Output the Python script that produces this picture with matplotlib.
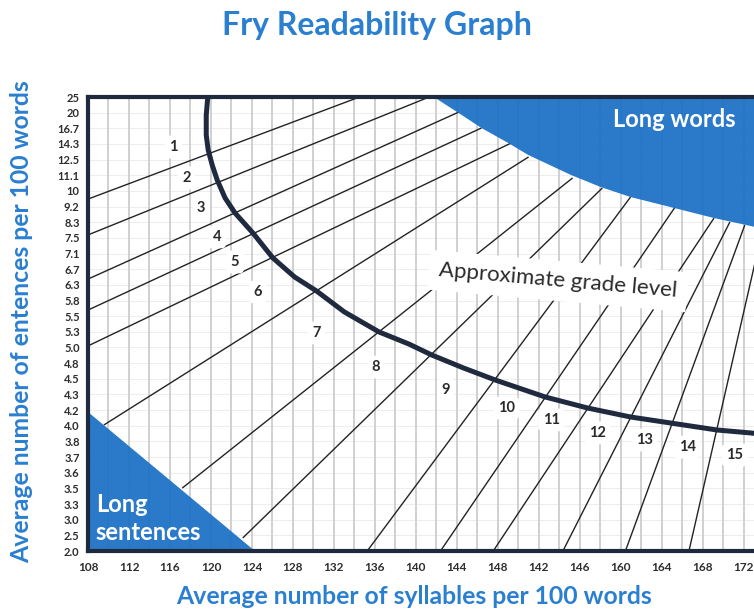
import matplotlib
matplotlib.use("Agg")
import matplotlib.pyplot as plt

plt.rcParams['font.family'] = ['Lato', 'DejaVu Sans']

# ---- axis tick labels (rows bottom->top, columns left->right) ----
y_labels = ["2.0", "2.5", "3.0", "3.3", "3.5", "3.6", "3.7", "3.8", "4.0", "4.2",
            "4.3", "4.5", "4.8", "5.0", "5.3", "5.5", "5.8", "6.3", "6.7", "7.1",
            "7.5", "8.3", "9.2", "10", "11.1", "12.5", "14.3", "16.7", "20", "25"]
x_labels = ["108", "112", "116", "120", "124", "128", "132", "136", "140", "144",
            "148", "142", "146", "160", "164", "168", "172"]
x_ticks = [108 + 4 * i for i in range(len(x_labels))]

# ---- grade boundary lines: start (x0,y0) -> end (x1,y1); y in row units ----
line_x0 = [108, 108, 108, 108, 108, 109.55, 117.2, 123.1, 135.25, 142.4, 147.55, 154.35, 160.45, 166.65]
line_y0 = [22.48, 20.19, 17.37, 15.39, 13.10, 8.05, 4.02, 0.83, 0, 0, 0, 0, 0, 0]
line_x1 = [134.5, 141.3, 144.2, 146.4, 149.3, 151.0, 155.3, 158.2, 160.95, 165.3, 169.1, 170.65, 172.1, 173.9]
line_y1 = [29, 29, 28.04, 27.02, 26.06, 25.17, 23.83, 23.19, 22.61, 21.97, 21.27, 21.02, 20.82, 20.7]

# ---- grade numbers ----
grade_text = [str(i) for i in range(1, 16)]
grade_x = [116.34, 117.60, 119.05, 120.61, 122.35, 124.58, 130.30, 136.12, 142.91,
           148.82, 153.19, 157.75, 162.30, 166.47, 171.13]
grade_y = [25.81, 23.83, 21.91, 20.06, 18.46, 16.55, 13.93, 11.75, 10.28,
           9.13, 8.37, 7.54, 7.09, 6.64, 6.13]

# ---- "Long words" region boundary ----
lw_x = [141.75, 144.17, 146.40, 149.02, 150.96, 155.13, 158.04, 160.95, 165.21, 169.09, 172.68, 175.0]
lw_y = [29.0, 27.98, 27.02, 26.06, 25.30, 24.02, 23.25, 22.61, 21.91, 21.27, 20.76, 20.4]

# ---- "Long sentences" triangle ----
ls_x = [108, 108, 124.29]
ls_y = [0, 8.88, 0]

# ---- approximate grade level curve ----
curve_x = [119.73, 119.54, 119.54, 119.73, 120.12, 120.61, 121.38, 122.35, 124.10, 126.04,
           128.17, 130.30, 133.02, 136.41, 139.32, 141.55, 144.65, 147.76, 152.61, 156.78,
           160.95, 164.82, 169.38, 172.68, 174.7]
curve_y = [29.3, 27.85, 26.57, 25.61, 24.66, 23.70, 22.55, 21.59, 20.31, 18.72,
           17.50, 16.61, 15.27, 13.99, 13.22, 12.52, 11.69, 10.92, 9.84, 9.13,
           8.56, 8.18, 7.73, 7.54, 7.41]

BLUE = "#1d72c6"
TBLUE = "#2a7fd0"
NAVY = "#1f2a3f"

fig = plt.figure(figsize=(7.54, 6.12), dpi=100)
ax = fig.add_axes([88 / 754, 61 / 612, 666 / 754, 454 / 612])
ax.set_xlim(108, 173.0)
ax.set_ylim(0, 29)

# grid
for gx in range(110, 176, 2):
    ax.axvline(gx, color="#d0d0d0", lw=1.4, zorder=1)
for gy in range(1, 29):
    ax.axhline(gy, color="#eeeeee", lw=0.8, zorder=0.9)

# grade lines
for x0, y0, x1, y1 in zip(line_x0, line_y0, line_x1, line_y1):
    ax.plot([x0, x1], [y0, y1], color="#232323", lw=1.0, zorder=2, solid_capstyle="butt")

# blue regions
ax.fill(lw_x + [175.0, 141.75], lw_y + [29.5, 29.5], color=BLUE, alpha=0.94, zorder=2.5, lw=0)
ax.fill(ls_x, ls_y, color=BLUE, alpha=0.94, zorder=2.5, lw=0)

# thick curve
ax.plot(curve_x, curve_y, color=NAVY, lw=3.6, zorder=3, solid_joinstyle="round",
        solid_capstyle="butt")

# grade numbers
for t, gx, gy in zip(grade_text, grade_x, grade_y):
    ax.text(gx, gy, t, ha="center", va="center", fontsize=10.5, fontweight="bold",
            color="#2a2a2a", zorder=4,
            bbox=dict(boxstyle="round,pad=0.3", fc="white", ec="none"))

ax.text(153.87, 17.25, "Approximate grade level", ha="center", va="center",
        rotation=-5, fontsize=16, color="#2a2a2a", zorder=4,
        bbox=dict(boxstyle="square,pad=0.45", fc="white", ec="none"))

ax.text(159.2, 27.55, "Long words", ha="left", va="center", fontsize=17,
        fontweight="bold", color="white", zorder=5)
ax.text(108.75, 2.94, "Long", ha="left", va="center", fontsize=17,
        fontweight="bold", color="white", zorder=5)
ax.text(108.75, 1.21, "sentences", ha="left", va="center", fontsize=17,
        fontweight="bold", color="white", zorder=5)

# ticks
ax.set_yticks(range(len(y_labels)))
ax.set_yticklabels(y_labels)
ax.set_xticks(x_ticks)
ax.set_xticklabels(x_labels)
ax.tick_params(axis="y", length=0, labelsize=8, colors="#2d2d2d", pad=6)
ax.tick_params(axis="x", length=0, labelsize=8.5, colors="#2d2d2d", pad=8)
for lab in ax.get_xticklabels() + ax.get_yticklabels():
    lab.set_fontweight("bold")

for s in ["left", "top", "bottom"]:
    ax.spines[s].set_color(NAVY)
    ax.spines[s].set_linewidth(3)
    ax.spines[s].set_zorder(6)
ax.spines["right"].set_visible(False)

fig.text(0.5, 1 - 25 / 612, "Fry Readability Graph", ha="center", va="center",
         fontsize=23, fontweight="bold", color=TBLUE)
fig.text(414 / 754, 1 - 597 / 612, "Average number of syllables per 100 words",
         ha="center", va="center", fontsize=17.8, fontweight="bold", color=TBLUE)
fig.text(22 / 754, 1 - 322 / 612, "Average number of entences per 100 words",
         ha="center", va="center", rotation=90, fontsize=17.8, fontweight="bold", color=TBLUE)

fig.savefig("out.png", dpi=100)
